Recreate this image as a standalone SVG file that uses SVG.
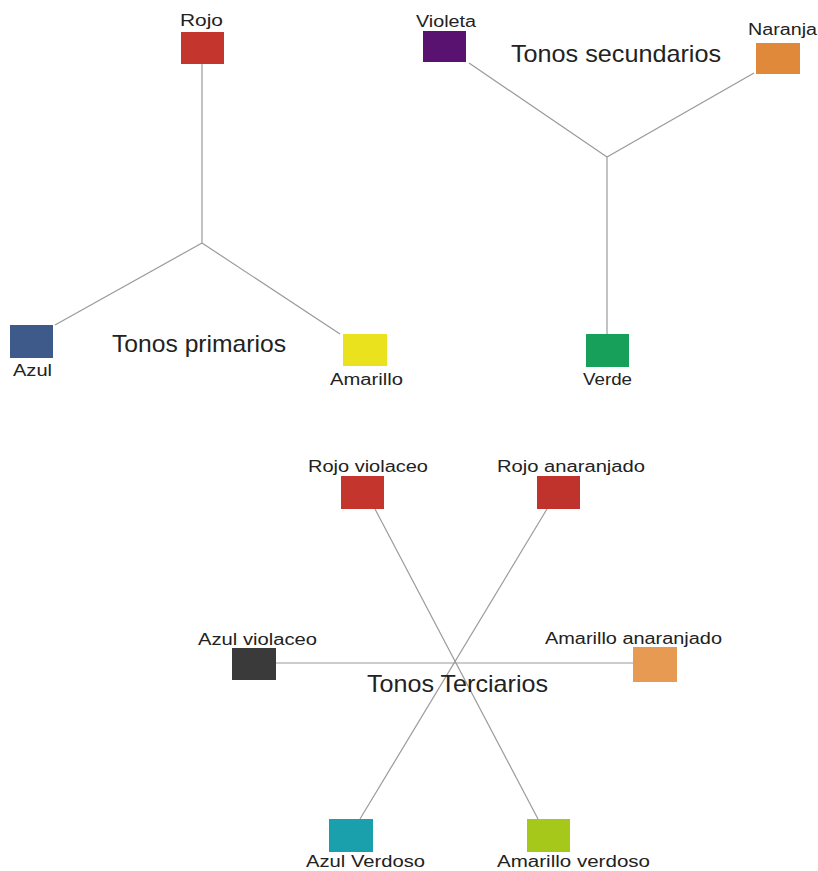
<svg xmlns="http://www.w3.org/2000/svg" width="818" height="871" viewBox="0 0 818 871">
<style>
.bg{fill:#ffffff}
.lbl{font-family:"Liberation Sans",Arial,sans-serif;font-size:16px;fill:#222222}
.ttl{font-family:"Liberation Sans",Arial,sans-serif;font-size:24px;fill:#222222}
.edge{stroke:#9a9a9a;stroke-width:1.2;fill:none}
</style>
<rect class="bg" x="0" y="0" width="818" height="871"/>
<g id="connectors">
<line class="edge" x1="202" y1="64" x2="202" y2="243"/>
<line class="edge" x1="202" y1="243" x2="55" y2="325"/>
<line class="edge" x1="202" y1="243" x2="340" y2="334"/>
<line class="edge" x1="607" y1="157" x2="469" y2="63"/>
<line class="edge" x1="607" y1="157" x2="754" y2="73"/>
<line class="edge" x1="607" y1="157" x2="607" y2="334"/>
<line class="edge" x1="375" y1="509" x2="538" y2="819"/>
<line class="edge" x1="547" y1="509" x2="360" y2="819"/>
<line class="edge" x1="276" y1="663" x2="634" y2="663"/>
</g>
<g id="node-rojo"><rect x="181" y="32" width="43" height="32" fill="#c4352d"/><text class="lbl" x="180" y="26" textLength="43" lengthAdjust="spacingAndGlyphs">Rojo</text></g>
<g id="node-azul"><rect x="10" y="325" width="43" height="33" fill="#3d5a8a"/><text class="lbl" x="13" y="376" textLength="39" lengthAdjust="spacingAndGlyphs">Azul</text></g>
<g id="node-amarillo"><rect x="343" y="334" width="44" height="32" fill="#e9e21c"/><text class="lbl" x="330" y="385" textLength="73" lengthAdjust="spacingAndGlyphs">Amarillo</text></g>
<g id="title-primarios"><text class="ttl" x="112" y="352" textLength="174" lengthAdjust="spacingAndGlyphs">Tonos primarios</text></g>
<g id="node-violeta"><rect x="423" y="31" width="43" height="31" fill="#5a1270"/><text class="lbl" x="416" y="27" textLength="60" lengthAdjust="spacingAndGlyphs">Violeta</text></g>
<g id="node-naranja"><rect x="756" y="43" width="44" height="31" fill="#e0893a"/><text class="lbl" x="748" y="35" textLength="69" lengthAdjust="spacingAndGlyphs">Naranja</text></g>
<g id="node-verde"><rect x="586" y="334" width="43" height="33" fill="#17a05a"/><text class="lbl" x="583" y="385" textLength="49" lengthAdjust="spacingAndGlyphs">Verde</text></g>
<g id="title-secundarios"><text class="ttl" x="511" y="62" textLength="210" lengthAdjust="spacingAndGlyphs">Tonos secundarios</text></g>
<g id="node-rojo-violaceo"><rect x="341" y="476" width="43" height="33" fill="#c4352d"/><text class="lbl" x="308" y="472" textLength="120" lengthAdjust="spacingAndGlyphs">Rojo violaceo</text></g>
<g id="node-rojo-anaranjado"><rect x="537" y="476" width="43" height="33" fill="#c0332d"/><text class="lbl" x="497" y="472" textLength="148" lengthAdjust="spacingAndGlyphs">Rojo anaranjado</text></g>
<g id="node-azul-violaceo"><rect x="232" y="648" width="44" height="32" fill="#3a3a3a"/><text class="lbl" x="198" y="645" textLength="119" lengthAdjust="spacingAndGlyphs">Azul violaceo</text></g>
<g id="node-amarillo-anaranjado"><rect x="633" y="647" width="44" height="35" fill="#e69a52"/><text class="lbl" x="545" y="644" textLength="177" lengthAdjust="spacingAndGlyphs">Amarillo anaranjado</text></g>
<g id="node-azul-verdoso"><rect x="329" y="819" width="44" height="33" fill="#1aa0ad"/><text class="lbl" x="306" y="867" textLength="119" lengthAdjust="spacingAndGlyphs">Azul Verdoso</text></g>
<g id="node-amarillo-verdoso"><rect x="527" y="819" width="43" height="33" fill="#a6c81a"/><text class="lbl" x="497" y="867" textLength="153" lengthAdjust="spacingAndGlyphs">Amarillo verdoso</text></g>
<g id="title-terciarios"><text class="ttl" x="367" y="692" textLength="181" lengthAdjust="spacingAndGlyphs">Tonos Terciarios</text></g>
</svg>
